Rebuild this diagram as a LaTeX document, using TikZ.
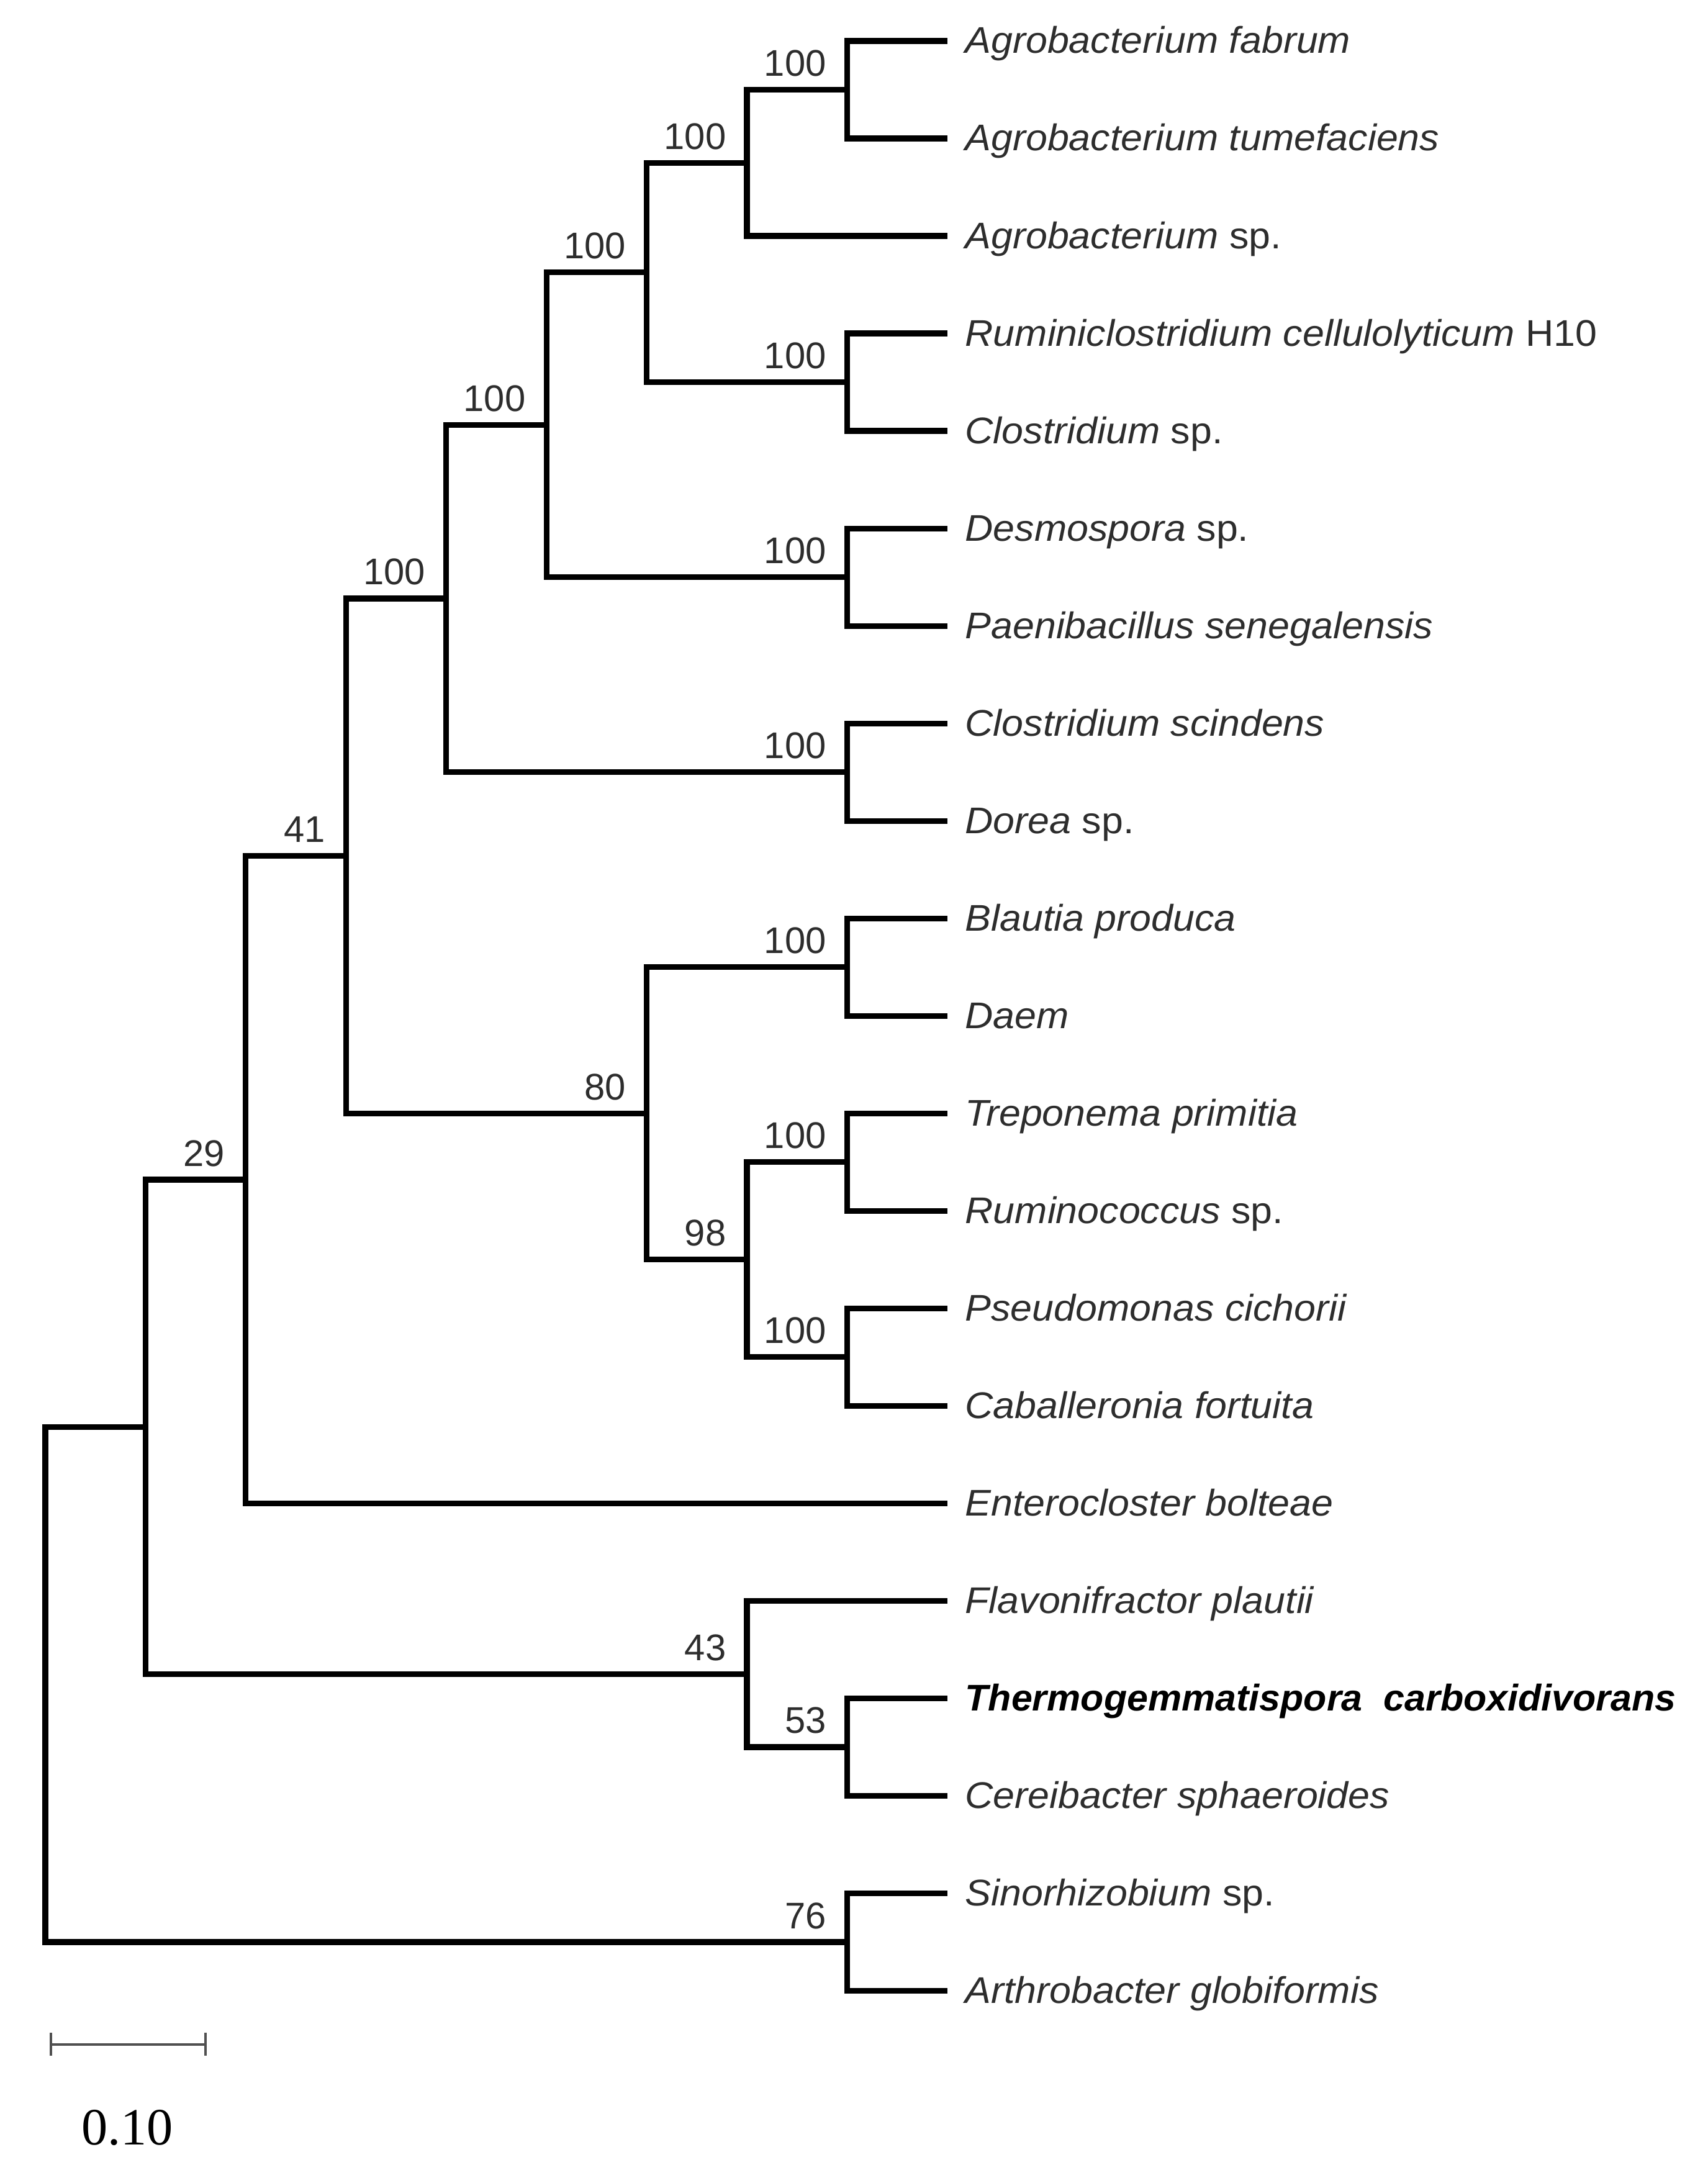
\documentclass[tikz,border=0pt]{standalone}
\usepackage{fontspec}
\usetikzlibrary{arrows.meta}
\newfontfamily\taxfont{Liberation Sans}[FakeStretch=1.05]
\newfontfamily\bootfont{Liberation Sans}
\newfontfamily\strainfont{Liberation Sans}[FakeStretch=1.02]
\newfontfamily\barfont{Liberation Serif}
\definecolor{txtcol}{RGB}{45,45,45}
\definecolor{barcol}{RGB}{80,80,80}
\tikzset{
  branch/.style   = {line width=2.6pt, draw=black},
  taxon/.style    = {anchor=base west, inner sep=0pt, xshift=2.8mm, yshift=-2mm,
                     font=\taxfont\fontsize{17}{20}\selectfont, text=txtcol},
  boot/.style     = {anchor=base east, inner sep=0pt, xshift=-3.3mm, yshift=2.2mm,
                     font=\bootfont\fontsize{17}{20}\selectfont, text=txtcol},
  scalebar/.style = {{Bar[width=3.7mm]}-{Bar[width=3.7mm]}, line width=1.1pt, draw=barcol},
  barlabel/.style = {anchor=base, inner sep=0pt, font=\barfont\fontsize{24}{28}\selectfont}
}

\begin{document}
\begin{tikzpicture}[x=1.614cm,y=-1.57cm]
\useasboundingbox (-0.452,0.580) rectangle (16.586,22.92);

% --- leaf tips and taxon names ---
\foreach \r/\name in {1/{\textit{Agrobacterium fabrum}},
                      2/{\textit{Agrobacterium tumefaciens}},
                      3/{\textit{Agrobacterium} sp.},
                      4/{\textit{Ruminiclostridium cellulolyticum} H10},
                      5/{\textit{Clostridium} sp.},
                      6/{\textit{Desmospora} sp.},
                      7/{\textit{Paenibacillus senegalensis}},
                      8/{\textit{Clostridium scindens}},
                      9/{\textit{Dorea} sp.},
                      10/{\textit{Blautia produca}},
                      11/{\textit{Daem}},
                      12/{\textit{Treponema primitia}},
                      13/{\textit{Ruminococcus} sp.},
                      14/{\textit{Pseudomonas cichorii}},
                      15/{\textit{Caballeronia fortuita}},
                      16/{\textit{Enterocloster bolteae}},
                      17/{\textit{Flavonifractor plautii}},
                      18/{\textcolor{black}{\strainfont\bfseries\itshape Thermogemmatispora\ \ carboxidivorans}},
                      19/{\textit{Cereibacter sphaeroides}},
                      20/{\textit{Sinorhizobium} sp.},
                      21/{\textit{Arthrobacter globiformis}}}{
  \coordinate (tip\r) at (9,\r);
  \node[taxon] (name\r) at (tip\r) {\name};
}

% --- internal nodes (level, row) ---
\coordinate (ab)   at (8,1.5);
\coordinate (abc)  at (7,2.25);
\coordinate (rc)   at (8,4.5);
\coordinate (agcl) at (6,3.375);
\coordinate (dp)   at (8,6.5);
\coordinate (grpA) at (5,4.9375);
\coordinate (cd)   at (8,8.5);
\coordinate (grpB) at (4,6.71875);
\coordinate (bd)   at (8,10.5);
\coordinate (tr)   at (8,12.5);
\coordinate (pc)   at (8,14.5);
\coordinate (n98)  at (7,13.5);
\coordinate (n80)  at (6,12);
\coordinate (n41)  at (3,9.359375);
\coordinate (n29)  at (2,12.6796875);
\coordinate (n53)  at (8,18.5);
\coordinate (n43)  at (7,17.75);
\coordinate (n1)   at (1,15.2148);
\coordinate (n76)  at (8,20.5);
\coordinate (root) at (0,17.8574);

% --- branches ---
\foreach \p/\c in {ab/tip1, ab/tip2, abc/ab, abc/tip3, rc/tip4, rc/tip5,
                   agcl/abc, agcl/rc, dp/tip6, dp/tip7, grpA/agcl, grpA/dp,
                   cd/tip8, cd/tip9, grpB/grpA, grpB/cd,
                   bd/tip10, bd/tip11, tr/tip12, tr/tip13, pc/tip14, pc/tip15,
                   n98/tr, n98/pc, n80/bd, n80/n98, n41/grpB, n41/n80,
                   n29/n41, n29/tip16, n53/tip18, n53/tip19, n43/tip17, n43/n53,
                   n1/n29, n1/n43, n76/tip20, n76/tip21, root/n1, root/n76}{
  \draw[branch] (\p) |- (\c);
}

% --- bootstrap values ---
\foreach \n/\v in {ab/100, abc/100, rc/100, agcl/100, dp/100, grpA/100,
                   cd/100, grpB/100, bd/100, tr/100, pc/100, n98/98, n80/80,
                   n41/41, n29/29, n53/53, n43/43, n76/76}{
  \node[boot] (bs-\n) at (\n) {\v};
}

% --- scale bar ---
\coordinate (sb0) at (0.043,21.55);
\coordinate (sb1) at (1.611,21.55);
\draw[scalebar] (sb0) -- (sb1);
\node[barlabel] (sblabel) at (0.818,22.58) {0.10};

\end{tikzpicture}
\end{document}
